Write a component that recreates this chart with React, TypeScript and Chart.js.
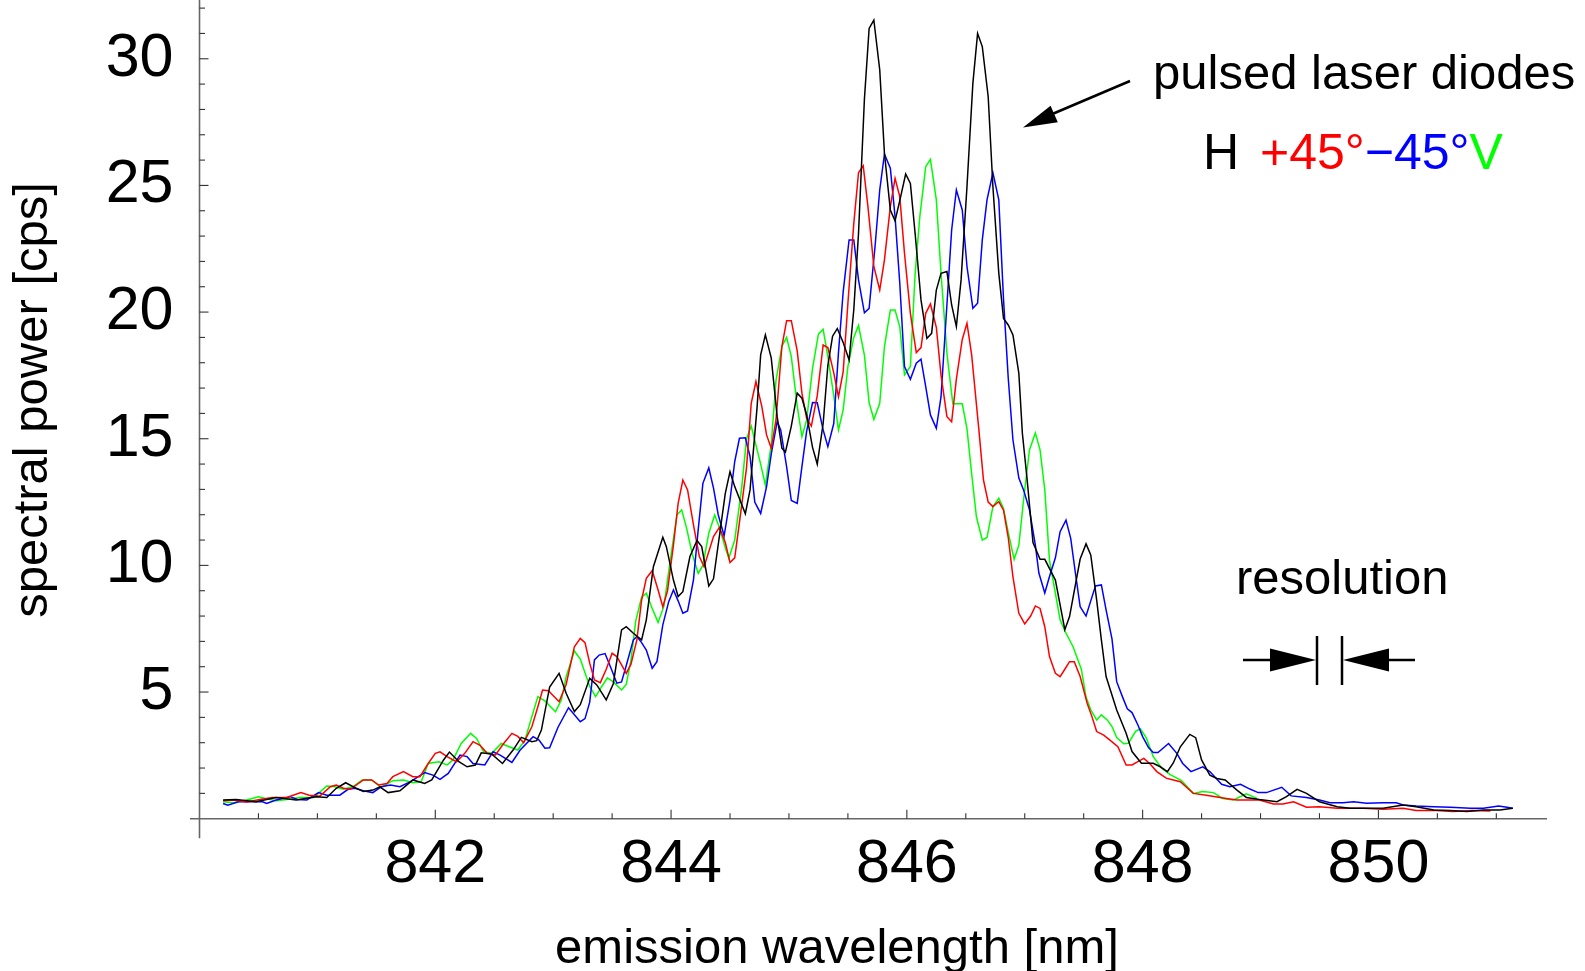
import React, { useEffect, useRef } from "react";
import { Chart, registerables } from "chart.js";

Chart.register(...registerables);

const FONT = '"Liberation Sans", Arial, Helvetica, sans-serif';

// [wavelength nm, spectral power cps]
const seriesH: [number, number][] = [
  [840.20, 0.74], [840.31, 0.76], [840.48, 0.67], [840.65, 0.84], [840.82, 0.74], [840.99, 0.87],
  [841.08, 0.84], [841.16, 1.2], [841.24, 1.42], [841.33, 1.2], [841.39, 1.07], [841.47, 1.13],
  [841.53, 1.26], [841.60, 1.03], [841.70, 1.1], [841.81, 1.53], [841.91, 1.39], [841.97, 1.53],
  [842.07, 2.32], [842.12, 2.63], [842.20, 2.25], [842.27, 2.05], [842.34, 2.12], [842.39, 2.6],
  [842.48, 2.55], [842.57, 2.18], [842.66, 2.71], [842.73, 3.21], [842.82, 3.04], [842.86, 3.08],
  [842.90, 3.5], [842.97, 5.2], [843.05, 5.74], [843.11, 4.95], [843.18, 4.23], [843.23, 4.5],
  [843.31, 5.54], [843.37, 5.28], [843.45, 4.69], [843.51, 5.33], [843.58, 7.45], [843.62, 7.58],
  [843.68, 7.32], [843.75, 7.06], [843.79, 7.85], [843.85, 9.95], [843.93, 11.11], [843.96, 10.74],
  [844.02, 9.42], [844.06, 8.77], [844.10, 8.96], [844.16, 10.35], [844.22, 10.98], [844.26, 10.74],
  [844.32, 9.19], [844.36, 9.47], [844.46, 12.84], [844.50, 13.7], [844.54, 13.11], [844.63, 12.04],
  [844.67, 12.98], [844.73, 16.27], [844.76, 18.31], [844.80, 19.1], [844.85, 18.18], [844.90, 15.87],
  [844.94, 14.63], [844.97, 14.47], [845.02, 15.5], [845.07, 16.8], [845.11, 16.6], [845.15, 15.95],
  [845.20, 14.66], [845.24, 14.0], [845.29, 15.6], [845.33, 17.9], [845.37, 19.05], [845.41, 19.35],
  [845.46, 18.8], [845.51, 18.11], [845.55, 20.1], [845.59, 23.1], [845.64, 28.4], [845.68, 31.2],
  [845.72, 31.53], [845.77, 29.56], [845.81, 26.27], [845.86, 24.03], [845.90, 23.6], [845.94, 24.4],
  [845.99, 25.45], [846.03, 25.08], [846.07, 23.11], [846.12, 20.48], [846.17, 18.96], [846.21, 19.16],
  [846.25, 20.87], [846.29, 21.53], [846.34, 21.6], [846.38, 20.28], [846.42, 19.43], [846.46, 21.27],
  [846.51, 24.95], [846.56, 29.03], [846.60, 31.0], [846.64, 30.48], [846.69, 28.5], [846.73, 24.95],
  [846.78, 21.53], [846.82, 19.75], [846.86, 19.49], [846.90, 19.1], [846.95, 17.58], [846.98, 15.21],
  [847.02, 13.4], [847.07, 10.9], [847.13, 10.24], [847.17, 10.24], [847.26, 9.42], [847.34, 7.46],
  [847.38, 7.98], [847.47, 10.25], [847.52, 10.85], [847.56, 10.41], [847.61, 8.64], [847.65, 7.06],
  [847.69, 5.61], [847.78, 4.29], [847.86, 3.37], [847.91, 2.65], [847.99, 2.19], [848.09, 2.19],
  [848.15, 2.05], [848.21, 1.86], [848.26, 2.2], [848.32, 2.84], [848.40, 3.33], [848.45, 3.2],
  [848.50, 2.32], [848.57, 1.72], [848.63, 1.59], [848.70, 1.53], [848.80, 1.13], [848.88, 0.84],
  [848.99, 0.76], [849.14, 0.67], [849.22, 0.87], [849.31, 1.16], [849.39, 1.0], [849.50, 0.67],
  [849.65, 0.47], [849.76, 0.41], [850.04, 0.41], [850.21, 0.54], [850.32, 0.47], [850.47, 0.34],
  [850.61, 0.32], [850.75, 0.28], [850.89, 0.34], [851.03, 0.34], [851.14, 0.41],
];

const seriesPlus45: [number, number][] = [
  [840.20, 0.71], [840.29, 0.74], [840.40, 0.66], [840.51, 0.76], [840.62, 0.84], [840.74, 0.84],
  [840.86, 1.03], [840.93, 0.93], [841.02, 0.89], [841.11, 1.26], [841.16, 1.33], [841.22, 1.2],
  [841.28, 1.16], [841.39, 1.53], [841.46, 1.53], [841.52, 1.33], [841.59, 1.39], [841.64, 1.66],
  [841.73, 1.86], [841.81, 1.66], [841.87, 1.66], [841.94, 2.18], [842.00, 2.58], [842.04, 2.64],
  [842.10, 2.45], [842.18, 2.25], [842.25, 2.58], [842.32, 3.04], [842.38, 2.9], [842.44, 2.58],
  [842.51, 2.52], [842.58, 2.97], [842.65, 3.37], [842.70, 3.25], [842.75, 3.0], [842.82, 3.64],
  [842.87, 4.42], [842.91, 5.08], [842.96, 5.05], [843.05, 4.62], [843.11, 5.3], [843.18, 6.79],
  [843.23, 7.12], [843.27, 6.95], [843.31, 6.14], [843.35, 5.48], [843.40, 5.37], [843.45, 5.9],
  [843.50, 6.53], [843.54, 6.4], [843.58, 6.07], [843.62, 5.74], [843.66, 6.1], [843.71, 7.06],
  [843.75, 8.63], [843.79, 9.49], [843.84, 9.79], [843.89, 9.03], [843.93, 8.37], [843.97, 9.0],
  [844.02, 10.8], [844.06, 12.45], [844.10, 13.37], [844.14, 12.98], [844.19, 11.6], [844.24, 10.35],
  [844.28, 9.95], [844.36, 11.14], [844.41, 11.5], [844.46, 10.9], [844.50, 10.11], [844.54, 10.3],
  [844.58, 11.7], [844.64, 13.85], [844.68, 16.4], [844.72, 17.26], [844.77, 16.27], [844.81, 15.15],
  [844.85, 14.62], [844.89, 15.74], [844.94, 18.64], [844.98, 19.66], [845.02, 19.66], [845.07, 18.47],
  [845.11, 16.8], [845.15, 15.8], [845.19, 15.5], [845.24, 16.7], [845.29, 18.7], [845.33, 18.6],
  [845.38, 17.6], [845.42, 16.66], [845.46, 17.65], [845.50, 20.35], [845.55, 23.5], [845.59, 25.5],
  [845.63, 25.77], [845.67, 24.16], [845.72, 21.8], [845.77, 20.87], [845.81, 22.06], [845.86, 24.16],
  [845.90, 25.28], [845.94, 24.56], [845.98, 22.32], [846.03, 19.95], [846.08, 18.4], [846.12, 18.6],
  [846.16, 19.95], [846.20, 20.32], [846.25, 19.4], [846.29, 17.5], [846.34, 15.87], [846.38, 15.67],
  [846.42, 17.35], [846.47, 18.92], [846.51, 19.56], [846.55, 18.3], [846.61, 15.4], [846.65, 13.37],
  [846.69, 12.5], [846.73, 12.32], [846.78, 12.52], [846.82, 12.18], [846.86, 11.1], [846.90, 9.55],
  [846.95, 8.11], [847.00, 7.69], [847.05, 8.0], [847.09, 8.4], [847.13, 8.3], [847.17, 7.58],
  [847.21, 6.4], [847.26, 5.74], [847.30, 5.61], [847.34, 5.9], [847.38, 6.2], [847.42, 6.2],
  [847.47, 5.61], [847.53, 4.55], [847.57, 4.03], [847.61, 3.44], [847.67, 3.3], [847.72, 3.11],
  [847.79, 2.84], [847.86, 2.12], [847.91, 2.12], [847.96, 2.25], [848.01, 2.38], [848.06, 2.18],
  [848.12, 1.86], [848.20, 1.6], [848.26, 1.53], [848.32, 1.46], [848.43, 1.0], [848.54, 0.93],
  [848.71, 0.8], [848.80, 0.74], [848.99, 0.74], [849.11, 0.58], [849.19, 0.58], [849.28, 0.67],
  [849.39, 0.45], [849.50, 0.47], [849.65, 0.41], [849.87, 0.41], [850.04, 0.37], [850.21, 0.41],
  [850.32, 0.32], [850.49, 0.32], [850.63, 0.28], [850.80, 0.32], [850.95, 0.3],
];

const seriesMinus45: [number, number][] = [
  [840.20, 0.6], [840.24, 0.53], [840.33, 0.67], [840.45, 0.67], [840.53, 0.68], [840.57, 0.6],
  [840.65, 0.74], [840.77, 0.87], [840.83, 0.76], [840.91, 0.74], [841.01, 1.03], [841.08, 0.93],
  [841.19, 0.93], [841.26, 1.16], [841.32, 1.2], [841.39, 1.1], [841.47, 1.03], [841.54, 1.26],
  [841.62, 1.33], [841.70, 1.26], [841.79, 1.46], [841.91, 1.82], [841.98, 1.72], [842.04, 1.55],
  [842.11, 1.79], [842.21, 2.51], [842.27, 2.45], [842.32, 2.18], [842.42, 2.12], [842.49, 2.64],
  [842.55, 2.51], [842.65, 2.22], [842.72, 2.71], [842.83, 3.24], [842.88, 3.1], [842.93, 2.78],
  [842.97, 2.8], [843.04, 3.6], [843.13, 4.38], [843.18, 4.1], [843.23, 3.83], [843.27, 3.95],
  [843.31, 4.6], [843.35, 6.27], [843.39, 6.46], [843.44, 6.52], [843.49, 5.95], [843.54, 5.35],
  [843.58, 5.4], [843.62, 6.05], [843.68, 7.06], [843.71, 7.19], [843.75, 6.95], [843.79, 6.66],
  [843.84, 5.94], [843.88, 6.2], [843.93, 7.65], [843.98, 8.57], [844.02, 9.03], [844.06, 8.6],
  [844.10, 8.11], [844.14, 8.2], [844.19, 9.43], [844.23, 11.4], [844.27, 13.24], [844.32, 13.85],
  [844.36, 13.05], [844.40, 12.0], [844.45, 11.17], [844.50, 12.58], [844.54, 14.1], [844.58, 15.02],
  [844.63, 15.04], [844.67, 14.3], [844.71, 12.5], [844.76, 12.05], [844.81, 13.11], [844.85, 14.4],
  [844.90, 15.68], [844.93, 15.35], [844.98, 13.9], [845.02, 12.56], [845.07, 12.45], [845.11, 13.9],
  [845.15, 15.3], [845.20, 16.43], [845.24, 16.42], [845.29, 15.35], [845.33, 14.69], [845.38, 15.6],
  [845.42, 18.4], [845.46, 20.8], [845.51, 22.85], [845.55, 22.85], [845.59, 21.27], [845.64, 19.97],
  [845.68, 20.15], [845.73, 22.58], [845.77, 24.82], [845.81, 26.24], [845.86, 25.68], [845.90, 23.77],
  [845.94, 21.14], [845.98, 17.85], [846.03, 17.35], [846.08, 17.98], [846.12, 18.14], [846.16, 17.06],
  [846.20, 15.94], [846.25, 15.41], [846.29, 16.66], [846.34, 20.3], [846.38, 23.24], [846.42, 24.82],
  [846.47, 24.03], [846.51, 21.8], [846.56, 20.15], [846.60, 20.35], [846.64, 22.85], [846.68, 24.43],
  [846.73, 25.5], [846.78, 24.43], [846.82, 20.5], [846.86, 17.4], [846.90, 14.95], [846.95, 13.45],
  [846.99, 12.98], [847.04, 12.2], [847.09, 10.8], [847.12, 9.7], [847.17, 8.91], [847.21, 9.56],
  [847.26, 10.3], [847.30, 11.33], [847.35, 11.79], [847.39, 11.07], [847.43, 9.69], [847.47, 8.37],
  [847.52, 8.0], [847.56, 8.6], [847.60, 9.19], [847.65, 9.23], [847.69, 8.24], [847.74, 7.1],
  [847.78, 5.41], [847.83, 4.8], [847.87, 4.34], [847.91, 4.19], [847.96, 3.7], [848.00, 3.24],
  [848.05, 2.81], [848.09, 2.61], [848.13, 2.61], [848.22, 2.97], [848.29, 2.58], [848.34, 2.18],
  [848.41, 1.86], [848.51, 2.05], [848.57, 1.86], [848.67, 1.36], [848.74, 1.26], [848.83, 1.36],
  [848.91, 1.17], [848.98, 1.03], [849.05, 1.03], [849.18, 1.24], [849.26, 0.9], [849.39, 0.84],
  [849.50, 0.74], [849.59, 0.63], [849.70, 0.63], [849.79, 0.67], [849.90, 0.61], [850.04, 0.63],
  [850.15, 0.63], [850.21, 0.54], [850.32, 0.5], [850.47, 0.47], [850.61, 0.45], [850.78, 0.41],
  [850.89, 0.41], [851.02, 0.5], [851.09, 0.45], [851.14, 0.41],
];

const seriesV: [number, number][] = [
  [840.20, 0.67], [840.29, 0.63], [840.40, 0.74], [840.50, 0.87], [840.56, 0.8], [840.65, 0.71],
  [840.74, 0.76], [840.85, 0.84], [840.97, 0.84], [841.08, 1.29], [841.15, 1.26], [841.22, 1.16],
  [841.30, 1.26], [841.38, 1.53], [841.46, 1.53], [841.54, 1.24], [841.64, 1.5], [841.73, 1.53],
  [841.81, 1.42], [841.88, 1.46], [841.94, 2.18], [842.03, 2.25], [842.10, 2.12], [842.15, 2.32],
  [842.22, 2.97], [842.30, 3.37], [842.35, 3.17], [842.41, 2.64], [842.48, 2.58], [842.56, 2.97],
  [842.61, 2.87], [842.70, 2.71], [842.76, 3.1], [842.87, 4.82], [842.93, 4.65], [843.02, 4.22],
  [843.07, 4.7], [843.11, 5.61], [843.18, 6.62], [843.23, 6.3], [843.31, 5.22], [843.36, 4.82],
  [843.41, 5.2], [843.46, 5.56], [843.51, 5.4], [843.58, 5.08], [843.62, 5.3], [843.66, 6.27],
  [843.70, 7.8], [843.75, 8.75], [843.79, 8.9], [843.84, 8.3], [843.89, 7.75], [843.94, 8.4],
  [843.99, 10.1], [844.05, 12.0], [844.09, 12.19], [844.13, 11.5], [844.18, 10.45], [844.23, 9.68],
  [844.27, 10.0], [844.32, 11.27], [844.37, 11.99], [844.41, 11.5], [844.46, 10.7], [844.49, 10.28],
  [844.54, 11.0], [844.60, 13.1], [844.64, 15.0], [844.68, 15.5], [844.73, 14.56], [844.76, 14.0],
  [844.80, 13.17], [844.85, 14.8], [844.89, 17.3], [844.94, 18.64], [844.98, 19.0], [845.02, 18.24],
  [845.07, 16.3], [845.11, 15.08], [845.15, 15.74], [845.20, 17.78], [845.25, 19.13], [845.29, 19.32],
  [845.33, 18.24], [845.38, 16.7], [845.42, 15.35], [845.46, 16.14], [845.50, 17.85], [845.55, 19.0],
  [845.59, 19.47], [845.64, 18.3], [845.68, 16.43], [845.72, 15.76], [845.77, 16.4], [845.81, 18.64],
  [845.86, 20.08], [845.90, 20.08], [845.94, 19.42], [845.98, 17.52], [846.03, 17.85], [846.07, 21.5],
  [846.11, 23.77], [846.16, 25.74], [846.20, 26.03], [846.25, 24.43], [846.29, 21.53], [846.34, 18.37],
  [846.39, 16.38], [846.42, 16.38], [846.47, 16.38], [846.51, 15.4], [846.55, 13.6], [846.59, 11.92],
  [846.64, 11.0], [846.68, 11.1], [846.73, 12.32], [846.78, 12.65], [846.82, 12.25], [846.86, 11.3],
  [846.91, 10.24], [846.95, 10.8], [846.99, 12.58], [847.04, 14.56], [847.09, 15.23], [847.13, 14.56],
  [847.17, 12.98], [847.21, 10.2], [847.26, 8.9], [847.30, 7.85], [847.34, 7.42], [847.41, 6.79],
  [847.48, 5.9], [847.52, 4.8], [847.56, 4.3], [847.61, 3.9], [847.65, 4.1], [847.70, 3.9],
  [847.74, 3.64], [847.78, 3.2], [847.84, 2.96], [847.88, 2.98], [847.94, 3.45], [847.98, 3.55],
  [848.03, 3.2], [848.09, 2.45], [848.16, 2.0], [848.23, 1.75], [848.33, 1.5], [848.43, 1.0],
  [848.51, 1.07], [848.60, 1.03], [848.68, 0.8], [848.77, 0.74], [848.88, 0.98], [848.97, 0.8],
];

const xTickLabels = [842, 844, 846, 848, 850];
const yTickLabels = [5, 10, 15, 20, 25, 30];
const xRange = [840, 851.43];
const yRange = [0, 32.32];
const xMinorStep = 0.5;
const yMinorStep = 1;

const legendParts: [string, string][] = [
  ["+45°", "#ff0000"],
  ["\u221245°", "#0000ff"],
  ["V", "#00ff00"],
];

export default function App() {
  const ref = useRef<HTMLCanvasElement>(null);

  useEffect(() => {
    const canvas = ref.current;
    if (!canvas) return;
    const toPts = (arr: [number, number][]) => arr.map(([x, y]) => ({ x, y }));

    const arrowHead = (ctx: CanvasRenderingContext2D, tx: number, ty: number, fx: number, fy: number, len: number, half: number) => {
      const dx = tx - fx, dy = ty - fy;
      const L = Math.hypot(dx, dy);
      const ux = dx / L, uy = dy / L;
      const bx = tx - ux * len, by = ty - uy * len;
      ctx.beginPath();
      ctx.moveTo(tx, ty);
      ctx.lineTo(bx - uy * half, by + ux * half);
      ctx.lineTo(bx + uy * half, by - ux * half);
      ctx.closePath();
      ctx.fill();
    };

    const decor = {
      id: "decor",
      beforeDatasetsDraw(chart: any) {
        const { ctx } = chart;
        const xs = chart.scales.x, ys = chart.scales.y;
        const x0 = xs.getPixelForValue(xRange[0]);
        const y0 = ys.getPixelForValue(0);
        ctx.save();
        ctx.strokeStyle = "#666";
        ctx.lineWidth = 1.6;
        ctx.beginPath();
        ctx.moveTo(x0, 0);
        ctx.lineTo(x0, y0 + 19.5);
        ctx.stroke();
        ctx.beginPath();
        ctx.moveTo(x0 - 9.5, y0);
        ctx.lineTo(xs.right, y0);
        ctx.stroke();
        ctx.strokeStyle = "#333";
        ctx.lineWidth = 1.1;
        for (let v = xRange[0] + xMinorStep; v <= xRange[1]; v += xMinorStep) {
          const px = xs.getPixelForValue(v);
          const major = xTickLabels.includes(Math.round(v * 1000) / 1000);
          ctx.beginPath();
          ctx.moveTo(px, y0);
          ctx.lineTo(px, y0 - (major ? 9 : 5.5));
          ctx.stroke();
        }
        for (let v = yMinorStep; v <= yRange[1]; v += yMinorStep) {
          const py = ys.getPixelForValue(v);
          const major = yTickLabels.includes(v);
          ctx.beginPath();
          ctx.moveTo(x0, py);
          ctx.lineTo(x0 + (major ? 9 : 5.5), py);
          ctx.stroke();
        }
        ctx.restore();
      },
      afterDraw(chart: any) {
        const { ctx } = chart;
        ctx.save();
        ctx.fillStyle = "#000";
        ctx.textBaseline = "alphabetic";
        ctx.font = `49px ${FONT}`;
        ctx.textAlign = "center";
        ctx.fillText("emission wavelength [nm]", 837, 963);
        ctx.save();
        ctx.translate(47, 400);
        ctx.rotate(-Math.PI / 2);
        ctx.fillText("spectral power [cps]", 0, 0);
        ctx.restore();
        ctx.textAlign = "left";
        ctx.fillText("pulsed laser diodes", 1153, 89);
        ctx.fillText("resolution", 1236, 594);
        ctx.font = `50px ${FONT}`;
        ctx.fillText("H", 1203, 169);
        let px = 1260;
        for (const [t, c] of legendParts) {
          ctx.fillStyle = c;
          ctx.fillText(t, px, 169);
          px += ctx.measureText(t).width;
        }
        // arrow to the peaks
        ctx.fillStyle = "#000";
        ctx.strokeStyle = "#000";
        ctx.lineWidth = 2.5;
        ctx.beginPath();
        ctx.moveTo(1130, 81);
        ctx.lineTo(1050, 115);
        ctx.stroke();
        arrowHead(ctx, 1023, 127.5, 1130, 81, 34, 9);
        // resolution marker
        ctx.lineWidth = 2.5;
        ctx.beginPath();
        ctx.moveTo(1243, 660);
        ctx.lineTo(1280, 660);
        ctx.moveTo(1415, 660);
        ctx.lineTo(1380, 660);
        ctx.moveTo(1317, 636);
        ctx.lineTo(1317, 685);
        ctx.moveTo(1342, 636);
        ctx.lineTo(1342, 685);
        ctx.stroke();
        arrowHead(ctx, 1316, 660, 1243, 660, 46, 11.5);
        arrowHead(ctx, 1343, 660, 1415, 660, 46, 11.5);
        ctx.restore();
      },
    };

    const mk = (data: [number, number][], color: string) => ({
      data: toPts(data),
      borderColor: color,
      backgroundColor: color,
      borderWidth: 1.5,
      pointRadius: 0,
      fill: false,
      tension: 0,
    });

    const chart = new Chart(canvas, {
      type: "line",
      data: {
        datasets: [
          { label: "H", ...mk(seriesH, "#000000") },
          { label: "+45°", ...mk(seriesPlus45, "#ff0000") },
          { label: "−45°", ...mk(seriesMinus45, "#0000ff") },
          { label: "V", ...mk(seriesV, "#00ff00") },
        ],
      },
      options: {
        animation: false,
        responsive: false,
        devicePixelRatio: 1,
        events: [],
        layout: { padding: { left: 0, right: 38, top: 0, bottom: 0 } },
        plugins: { legend: { display: false }, tooltip: { enabled: false }, title: { display: false } },
        scales: {
          x: {
            type: "linear",
            min: xRange[0],
            max: xRange[1],
            grid: { display: false, drawTicks: false },
            border: { display: false },
            ticks: {
              stepSize: xMinorStep,
              autoSkip: false,
              maxRotation: 0,
              minRotation: 0,
              padding: 10,
              color: "#000",
              font: { family: FONT, size: 61 },
              callback: (v: any) => {
                const r = Math.round(Number(v) * 1000) / 1000;
                return xTickLabels.includes(r) ? String(r) : "";
              },
            },
            afterFit: (s: any) => {
              s.height = 152.3;
              s.paddingLeft = 0;
              s.paddingRight = 0;
            },
          },
          y: {
            type: "linear",
            min: yRange[0],
            max: yRange[1],
            grid: { display: false, drawTicks: false },
            border: { display: false },
            ticks: {
              stepSize: yMinorStep,
              autoSkip: false,
              padding: 26,
              color: "#000",
              font: { family: FONT, size: 61 },
              callback: (v: any) => {
                const r = Math.round(Number(v) * 1000) / 1000;
                return yTickLabels.includes(r) ? String(r) : "";
              },
            },
            afterFit: (s: any) => {
              s.width = 199.5;
              s.paddingTop = 0;
              s.paddingBottom = 0;
            },
          },
        },
      },
      plugins: [decor],
    } as any);

    return () => chart.destroy();
  }, []);

  return (
    <div style={{ position: "fixed", left: 0, top: 0, width: 1585, height: 971, background: "#fff" }}>
      <canvas ref={ref} width={1585} height={971} style={{ display: "block", width: 1585, height: 971 }} />
    </div>
  );
}
